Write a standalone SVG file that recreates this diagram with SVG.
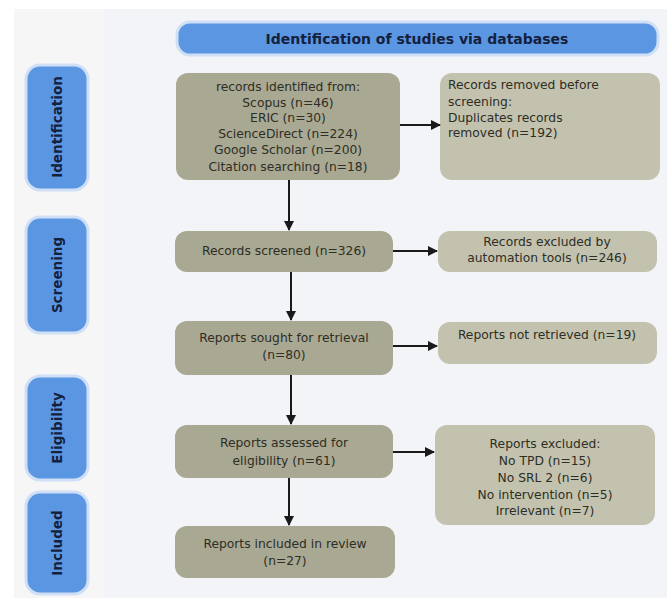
<svg xmlns="http://www.w3.org/2000/svg" width="667" height="598" viewBox="0 0 667 598">
<style>
.lane{fill:#5b96e3;stroke:#cfe0f6;stroke-width:3}
.lt{font-family:"DejaVu Sans","Liberation Sans",sans-serif;font-size:13.5px;font-weight:bold;fill:#14213d;text-anchor:middle;dominant-baseline:central}
.ht{font-size:14px}
.main{fill:#a9a892}
.side{fill:#c3c2ae}
.t{font-family:"DejaVu Sans","Liberation Sans",sans-serif;font-size:12.3px;fill:#2e2e25;text-anchor:middle}
.tl{font-family:"DejaVu Sans","Liberation Sans",sans-serif;font-size:12.3px;fill:#2e2e25}
.c{stroke:#1a1a1a;stroke-width:2;fill:none}
</style>
<defs>
<marker id="ah" viewBox="0 0 10 10" refX="9" refY="5" markerWidth="5" markerHeight="5" orient="auto" markerUnits="strokeWidth">
<path d="M0,0 L10,5 L0,10 z" fill="#1a1a1a"/>
</marker>
</defs>
<rect x="0" y="0" width="667" height="598" fill="#ffffff"/>
<rect x="14" y="9" width="653" height="589" fill="#f3f4f8"/>
<rect x="14" y="9" width="90" height="589" fill="#f7f6f6"/>

<g id="header">
<rect x="177" y="22" width="481" height="33" rx="13" class="lane"/>
<text x="417" y="39" class="lt ht">Identification of studies via databases</text>
</g>

<g id="lane-identification">
<rect x="26" y="65" width="62" height="125" rx="14" class="lane"/>
<text transform="translate(57,127) rotate(-90)" class="lt">Identification</text>
</g>
<g id="lane-screening">
<rect x="26" y="217" width="62" height="116" rx="14" class="lane"/>
<text transform="translate(57,275) rotate(-90)" class="lt">Screening</text>
</g>
<g id="lane-eligibility">
<rect x="26" y="376" width="62" height="104" rx="14" class="lane"/>
<text transform="translate(57,428) rotate(-90)" class="lt">Eligibility</text>
</g>
<g id="lane-included">
<rect x="26" y="492" width="62" height="102" rx="14" class="lane"/>
<text transform="translate(57,543) rotate(-90)" class="lt">Included</text>
</g>

<g id="records-identified">
<rect x="176" y="73" width="224" height="107" rx="12" class="main"/>
<text class="t"><tspan x="288" y="91">records identified from:</tspan><tspan x="288" y="107">Scopus (n=46)</tspan><tspan x="288" y="122">ERIC (n=30)</tspan><tspan x="288" y="138">ScienceDirect (n=224)</tspan><tspan x="288" y="154">Google Scholar (n=200)</tspan><tspan x="288" y="171">Citation searching (n=18)</tspan></text>
</g>
<g id="records-removed">
<rect x="440" y="73" width="220" height="107" rx="12" class="side"/>
<text class="tl"><tspan x="448" y="89">Records removed before</tspan><tspan x="448" y="106">screening:</tspan><tspan x="448" y="122">Duplicates records</tspan><tspan x="448" y="137">removed (n=192)</tspan></text>
</g>
<g id="records-screened">
<rect x="175" y="231" width="218" height="41" rx="12" class="main"/>
<text x="284" y="255" class="t">Records screened (n=326)</text>
</g>
<g id="records-excluded">
<rect x="438" y="231" width="219" height="41" rx="12" class="side"/>
<text class="t"><tspan x="547" y="246">Records excluded by</tspan><tspan x="547" y="262">automation tools (n=246)</tspan></text>
</g>
<g id="reports-sought">
<rect x="175" y="321" width="218" height="54" rx="12" class="main"/>
<text class="t"><tspan x="284" y="342">Reports sought for retrieval</tspan><tspan x="284" y="359">(n=80)</tspan></text>
</g>
<g id="reports-not-retrieved">
<rect x="438" y="322" width="219" height="42" rx="12" class="side"/>
<text x="547" y="339" class="t">Reports not retrieved (n=19)</text>
</g>
<g id="reports-assessed">
<rect x="175" y="425" width="218" height="53" rx="12" class="main"/>
<text class="t"><tspan x="284" y="447">Reports assessed for</tspan><tspan x="284" y="465">eligibility (n=61)</tspan></text>
</g>
<g id="reports-excluded">
<rect x="435" y="425" width="220" height="100" rx="12" class="side"/>
<text class="t"><tspan x="545" y="448">Reports excluded:</tspan><tspan x="545" y="465">No TPD (n=15)</tspan><tspan x="545" y="482">No SRL 2 (n=6)</tspan><tspan x="545" y="499">No intervention (n=5)</tspan><tspan x="545" y="515">Irrelevant (n=7)</tspan></text>
</g>
<g id="reports-included">
<rect x="175" y="526" width="220" height="52" rx="12" class="main"/>
<text class="t"><tspan x="285" y="548">Reports included in review</tspan><tspan x="285" y="565">(n=27)</tspan></text>
</g>

<g id="connectors">
<line x1="289" y1="180" x2="289" y2="230" class="c" marker-end="url(#ah)"/>
<line x1="291" y1="272" x2="291" y2="320" class="c" marker-end="url(#ah)"/>
<line x1="291" y1="375" x2="291" y2="424" class="c" marker-end="url(#ah)"/>
<line x1="289" y1="478" x2="289" y2="525" class="c" marker-end="url(#ah)"/>
<line x1="400" y1="125" x2="440" y2="125" class="c" marker-end="url(#ah)"/>
<line x1="393" y1="251" x2="437" y2="251" class="c" marker-end="url(#ah)"/>
<line x1="393" y1="346" x2="437" y2="346" class="c" marker-end="url(#ah)"/>
<line x1="393" y1="452" x2="434" y2="452" class="c" marker-end="url(#ah)"/>
</g>
</svg>
